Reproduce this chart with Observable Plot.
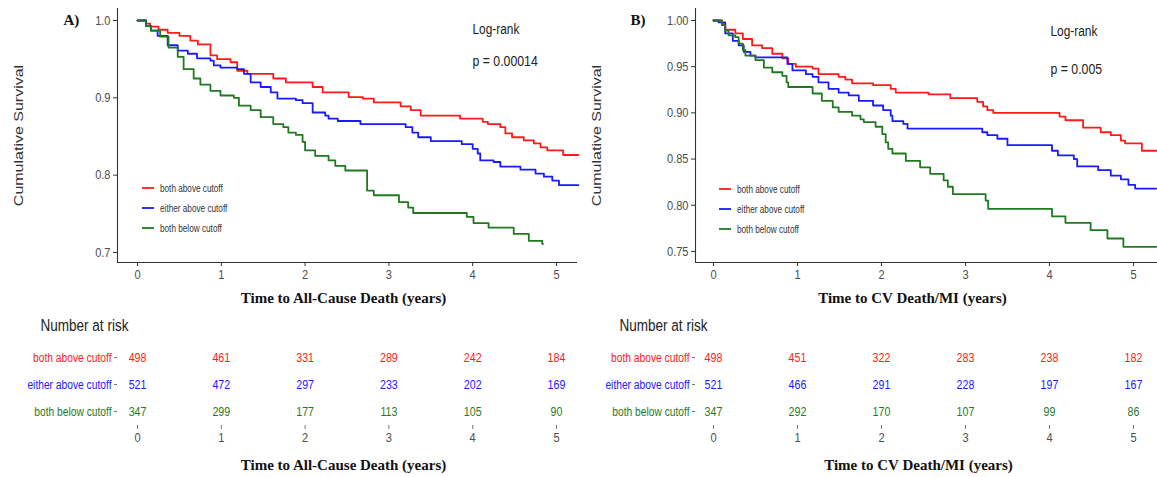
<!DOCTYPE html>
<html><head><meta charset="utf-8">
<script src="https://cdn.jsdelivr.net/npm/d3@7"></script>
<script src="https://cdn.jsdelivr.net/npm/@observablehq/plot@0.6"></script>
<style>
body{margin:0;background:#fff;}
#wrap{position:relative;width:1157px;height:477px;overflow:hidden;background:#fff;}
.lg{position:absolute;font-family:"Liberation Sans",Arial,sans-serif;font-size:10px;color:#333;white-space:nowrap;}
.lg span{display:inline-block;transform:scaleX(0.82);transform-origin:left center;vertical-align:middle;}
</style></head><body><div id="wrap"></div>
<script>
const groups = ["both above cutoff", "either above cutoff", "both below cutoff"];
const colors = ["#ff1a1a", "#1a1aff", "#1f7a1f"];
const xTicks = [0, 1, 2, 3, 4, 5];
const yTicksA = [0.7, 0.8, 0.9, 1.0];
const yTicksB = [0.75, 0.80, 0.85, 0.90, 0.95, 1.00];

// Panel A: all-cause death (time in years, survival)
const aRedT = [0,0.10,0.15,0.25,0.36,0.50,0.63,0.72,0.87,0.95,1.11,1.19,1.31,1.62,1.77,2.09,2.21,2.52,2.69,2.82,3.14,3.26,3.38,3.85,4.12,4.18,4.33,4.39,4.47,4.61,4.73,4.81,4.89,5.08,5.26];
const aRedS = [1.0,0.996,0.992,0.988,0.984,0.980,0.974,0.969,0.955,0.950,0.946,0.935,0.931,0.925,0.920,0.914,0.907,0.901,0.899,0.894,0.889,0.884,0.877,0.873,0.869,0.866,0.862,0.854,0.849,0.845,0.841,0.836,0.832,0.826,0.826];
const aBlueT = [0,0.10,0.16,0.24,0.36,0.48,0.60,0.71,0.87,0.91,0.99,1.19,1.27,1.35,1.47,1.59,1.67,1.89,1.97,2.09,2.24,2.28,2.39,2.66,3.20,3.28,3.35,3.50,3.87,4.00,4.06,4.09,4.25,4.33,4.57,4.75,4.85,4.95,5.03,5.26];
const aBlueS = [1.0,0.993,0.987,0.980,0.968,0.961,0.957,0.951,0.948,0.942,0.939,0.937,0.931,0.920,0.914,0.907,0.899,0.897,0.893,0.881,0.877,0.873,0.870,0.866,0.862,0.855,0.849,0.844,0.840,0.834,0.828,0.819,0.817,0.811,0.807,0.802,0.798,0.793,0.787,0.787];
const aGreenT = [0,0.10,0.16,0.27,0.37,0.48,0.55,0.67,0.75,0.87,0.99,1.15,1.21,1.35,1.47,1.62,1.74,1.80,1.89,1.97,2.00,2.12,2.28,2.36,2.48,2.74,2.82,3.12,3.23,3.29,3.93,4.01,4.19,4.49,4.67,4.83,4.84];
const aGreenS = [1.0,0.993,0.987,0.979,0.965,0.953,0.937,0.925,0.917,0.909,0.903,0.900,0.890,0.884,0.875,0.866,0.862,0.855,0.852,0.843,0.832,0.825,0.819,0.812,0.806,0.780,0.774,0.765,0.758,0.751,0.746,0.738,0.732,0.724,0.715,0.711,0.711];

// Panel B: CV death / MI
const bRedT = [0,0.10,0.14,0.26,0.35,0.46,0.58,0.70,0.82,0.89,0.98,1.18,1.25,1.49,1.57,1.65,1.90,2.11,2.17,2.56,2.82,3.14,3.21,3.26,3.33,4.12,4.19,4.40,4.61,4.73,4.85,4.90,5.10,5.27];
const bRedS = [1.0,0.996,0.990,0.986,0.980,0.973,0.970,0.964,0.959,0.953,0.950,0.948,0.942,0.939,0.936,0.932,0.930,0.926,0.922,0.920,0.916,0.912,0.907,0.903,0.900,0.896,0.892,0.884,0.879,0.876,0.870,0.867,0.859,0.859];
const bBlueT = [0,0.06,0.14,0.23,0.30,0.36,0.44,0.50,0.88,0.94,1.10,1.18,1.25,1.37,1.49,1.61,1.73,1.90,2.02,2.11,2.13,2.26,2.31,3.20,3.26,3.38,3.50,4.03,4.10,4.29,4.33,4.58,4.73,4.85,4.94,5.02,5.27];
const bBlueS = [1.0,0.998,0.986,0.978,0.973,0.966,0.962,0.960,0.953,0.946,0.942,0.939,0.933,0.926,0.922,0.919,0.913,0.908,0.903,0.897,0.891,0.888,0.883,0.879,0.876,0.872,0.865,0.859,0.854,0.850,0.842,0.838,0.832,0.828,0.822,0.818,0.818];
const bGreenT = [0,0.10,0.14,0.18,0.26,0.30,0.35,0.38,0.50,0.60,0.70,0.82,0.87,0.89,1.18,1.29,1.42,1.49,1.65,1.75,1.79,1.93,2.01,2.05,2.08,2.13,2.29,2.46,2.58,2.74,2.79,2.85,3.24,3.27,4.03,4.19,4.49,4.69,4.88,5.27];
const bGreenS = [1.0,0.995,0.989,0.984,0.982,0.975,0.968,0.962,0.957,0.949,0.944,0.940,0.933,0.928,0.921,0.913,0.906,0.901,0.897,0.893,0.890,0.885,0.877,0.868,0.861,0.856,0.848,0.841,0.834,0.827,0.820,0.812,0.805,0.796,0.788,0.781,0.773,0.764,0.755,0.755];

// Number at risk
const riskTimes = [0, 1, 2, 3, 4, 5];
const riskARed = [498, 461, 331, 289, 242, 184];
const riskABlue = [521, 472, 297, 233, 202, 169];
const riskAGreen = [347, 299, 177, 113, 105, 90];
const riskBRed = [498, 451, 322, 283, 238, 182];
const riskBBlue = [521, 466, 291, 228, 197, 167];
const riskBGreen = [347, 292, 170, 107, 99, 86];

const SANS = '"Liberation Sans",Arial,sans-serif';
const SERIF = '"Liberation Serif","Times New Roman",serif';

const curve = (g, T, S) => T.map((t, i) => ({group: g, t, s: S[i]}));
const risk = (g, N) => riskTimes.map((t, i) => ({group: g, t, n: N[i]}));

const wrap = document.getElementById("wrap");

function kmPanel(cfg) {
  const data = [
    ...curve(groups[0], cfg.red[0], cfg.red[1]),
    ...curve(groups[1], cfg.blue[0], cfg.blue[1]),
    ...curve(groups[2], cfg.green[0], cfg.green[1])
  ];
  return Plot.plot({
    width: cfg.width, height: 305,
    marginLeft: 117, marginRight: cfg.mr, marginTop: 8, marginBottom: 43,
    style: {fontFamily: SANS, fontSize: "12.5px", color: "#4d4d4d", background: "transparent", overflow: "visible"},
    x: {domain: cfg.xd},
    y: {domain: cfg.yd},
    color: {domain: groups, range: colors},
    marks: [
      Plot.line(data, {x: "t", y: "s", stroke: "group", curve: "step-after", strokeWidth: 1.8}),
      Plot.axisX(xTicks, {tickSize: 4, tickPadding: 3, label: null, stroke: "#333", fontSize: 13.5}),
      Plot.axisY(cfg.yTicks, {tickSize: 4, tickPadding: 3, label: null, stroke: "#333", tickFormat: d3.format(cfg.fmt), fontSize: 13.5}),
      Plot.ruleX([cfg.xd[0]], {stroke: "#333", strokeWidth: 1.1}),
      Plot.ruleY([cfg.yd[0]], {stroke: "#333", strokeWidth: 1.1}),
      Plot.text(["Cumulative Survival"], {frameAnchor: "left", textAnchor: "middle", lineAnchor: "middle", rotate: -90, dx: -99, fontSize: 16, fill: "#333"}),
      Plot.text([cfg.xlabel], {frameAnchor: "bottom", lineAnchor: "middle", dy: 36, dx: cfg.xlDx, fontSize: 15, fontWeight: "bold", fontFamily: SERIF, fill: "#111", className: "serif"}),
      Plot.text([cfg.tag], {frameAnchor: "top-left", lineAnchor: "middle", dx: cfg.tagDx, dy: 12, textAnchor: "start", fontSize: 15, fontWeight: "bold", fontFamily: SERIF, fill: "#111", className: "serif"}),
      Plot.text(["Log-rank"], {frameAnchor: "top-left", lineAnchor: "middle", dx: 355, dy: cfg.lrDy, textAnchor: "start", fontSize: 14.5, fill: "#222"}),
      Plot.text([cfg.p], {frameAnchor: "top-left", lineAnchor: "middle", dx: 355, dy: cfg.pDy, textAnchor: "start", fontSize: 15, fill: "#222"})
    ]
  });
}

function riskTable(cfg) {
  const data = [
    ...risk(groups[0], cfg.n[0]),
    ...risk(groups[1], cfg.n[1]),
    ...risk(groups[2], cfg.n[2])
  ];
  return Plot.plot({
    width: cfg.width, height: 177,
    marginLeft: 117, marginRight: cfg.mr, marginTop: 40, marginBottom: 52,
    style: {fontFamily: SANS, fontSize: "13px", color: "#4d4d4d", background: "transparent", overflow: "visible"},
    x: {domain: cfg.xd},
    y: {type: "point", domain: groups, range: [57, 111], padding: 0},
    color: {domain: groups, range: colors},
    marks: [
      Plot.axisX(xTicks, {tickSize: 4, tickPadding: 3, label: null, stroke: "#777", fontSize: 13.5}),
      Plot.axisY(groups, {tickSize: 3, tickPadding: 2, label: null, stroke: "#777", tickFormat: () => ""}),
      Plot.text(groups, {y: d => d, frameAnchor: "left", lineAnchor: "middle", dx: -6, textAnchor: "end", fill: d => d, fontSize: 12.5}),
      Plot.text(data, {x: "t", y: "group", text: d => String(d.n), fill: "group", fontSize: 13}),
      Plot.text(["Number at risk"], {frameAnchor: "top-left", lineAnchor: "middle", dx: cfg.narDx, dy: -15, textAnchor: "start", fontSize: 16.5, fill: "#222"}),
      Plot.text([cfg.xlabel], {frameAnchor: "bottom", lineAnchor: "middle", dy: 40, dx: cfg.xlDx, fontSize: 15, fontWeight: "bold", fontFamily: SERIF, fill: "#111", className: "serif"})
    ]
  });
}

// The reference artwork is horizontally condensed: squeeze sans text around its anchor.
function condense(svg) {
  svg.querySelectorAll("text").forEach(t => {
    if (t.closest(".serif")) return;
    const tr = t.getAttribute("transform") || "";
    t.setAttribute("transform", tr + (tr.includes("rotate") ? " scale(1,0.82)" : " scale(0.82,1)"));
  });
}

function place(el, left, top) {
  condense(el);
  el.style.position = "absolute";
  el.style.left = left + "px";
  el.style.top = top + "px";
  el.style.maxWidth = "none";
  wrap.appendChild(el);
}

function legend(left, top, step) {
  groups.forEach((g, i) => {
    const d = document.createElement("div");
    d.className = "lg";
    d.style.left = left + "px";
    d.style.top = (top + i * step - 7) + "px";
    d.innerHTML = `<svg width="14" height="14" style="vertical-align:middle;margin-right:4px"><line x1="0" x2="12" y1="7" y2="7" stroke="${colors[i]}" stroke-width="1.8"/></svg><span>${g}</span>`;
    wrap.appendChild(d);
  });
}

const xdA = [-0.239, 5.251], ydA = [0.687, 1.0155];
const xdB = [-0.214, 5.286], ydB = [0.738, 1.013];

place(kmPanel({width: 580, mr: 3, xd: xdA, yd: ydA, yTicks: yTicksA, fmt: ".1f",
  red: [aRedT, aRedS], blue: [aBlueT, aBlueS], green: [aGreenT, aGreenS],
  xlabel: "Time to All-Cause Death (years)", xlDx: -4, tag: "A)", tagDx: -54,
  p: "p = 0.00014", lrDy: 21, pDy: 53}), 0, 0);
place(kmPanel({width: 579, mr: 0, xd: xdB, yd: ydB, yTicks: yTicksB, fmt: ".2f",
  red: [bRedT, bRedS], blue: [bBlueT, bBlueS], green: [bGreenT, bGreenS],
  xlabel: "Time to CV Death/MI (years)", xlDx: -14, tag: "B)", tagDx: -65,
  p: "p = 0.005", lrDy: 23, pDy: 61}), 578, 0);
place(riskTable({width: 580, mr: 3, xd: xdA, n: [riskARed, riskABlue, riskAGreen],
  xlabel: "Time to All-Cause Death (years)", xlDx: -4, narDx: -77}), 0, 300);
place(riskTable({width: 579, mr: 0, xd: xdB, n: [riskBRed, riskBBlue, riskBGreen],
  xlabel: "Time to CV Death/MI (years)", xlDx: -8, narDx: -76}), 578, 300);

legend(142, 188, 20);
legend(719, 189, 20);
</script></body></html>
